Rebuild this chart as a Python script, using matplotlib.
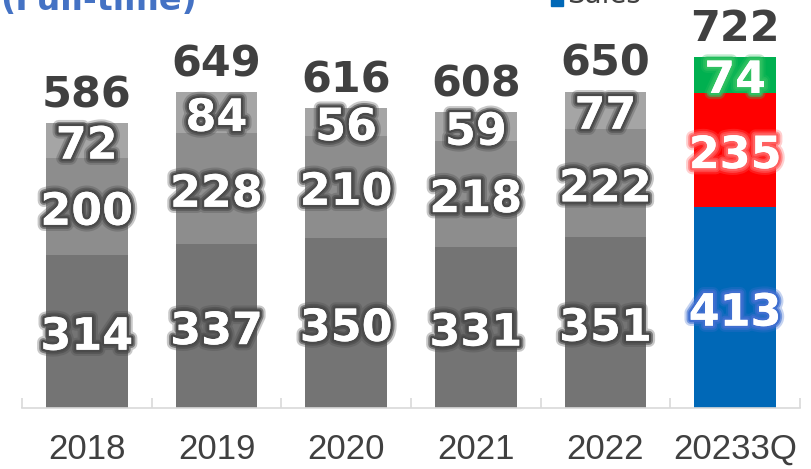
import numpy as np
import matplotlib
matplotlib.use("Agg")
import matplotlib.pyplot as plt
import matplotlib.patheffects as pe

# --- data ---
years = ["2018", "2019", "2020", "2021", "2022", "20233Q"]
bottom_vals = [314, 337, 350, 331, 351, 413]
middle_vals = [200, 228, 210, 218, 222, 235]
top_vals = [72, 84, 56, 59, 77, 74]
totals = [586, 649, 616, 608, 650, 722]

# colours: gray for past years, blue/red/green for latest
bottom_colors = ["#747474"] * 5 + ["#0068B7"]
middle_colors = ["#8D8D8D"] * 5 + ["#FF0000"]
top_colors = ["#A5A5A5"] * 5 + ["#00B050"]
bottom_glow = ["#4A4A4A"] * 5 + ["#3F6FD0"]
middle_glow = ["#4A4A4A"] * 5 + ["#FF6060"]
top_glow = ["#4A4A4A"] * 5 + ["#2EC060"]

fig = plt.figure(figsize=(8.12, 4.69), dpi=100)
ax = fig.add_axes([22 / 812, 61 / 469, 778 / 812, 408 / 469])

x = np.arange(len(years))
w = 0.63
ax.bar(x, bottom_vals, w, color=bottom_colors, zorder=2)
ax.bar(x, middle_vals, w, bottom=bottom_vals, color=middle_colors, zorder=2)
b2 = np.array(bottom_vals) + np.array(middle_vals)
ax.bar(x, top_vals, w, bottom=b2, color=top_colors, zorder=2)


def glow(color):
    return [pe.withStroke(linewidth=9, foreground=color, alpha=0.3),
            pe.withStroke(linewidth=6, foreground=color, alpha=0.6),
            pe.withStroke(linewidth=3.5, foreground=color),
            pe.Normal()]


lbl_kw = dict(ha="center", va="center", color="white", fontsize=32,
              fontweight="bold", family="DejaVu Sans", zorder=5,
              xytext=(0, -4), textcoords="offset points")
for i in range(len(years)):
    ax.annotate(str(bottom_vals[i]), (x[i], bottom_vals[i] / 2),
                path_effects=glow(bottom_glow[i]), **lbl_kw)
    ax.annotate(str(middle_vals[i]), (x[i], bottom_vals[i] + middle_vals[i] / 2),
                path_effects=glow(middle_glow[i]), **lbl_kw)
    ax.annotate(str(top_vals[i]), (x[i], b2[i] + top_vals[i] / 2),
                path_effects=glow(top_glow[i]), **lbl_kw)
    ax.annotate(str(totals[i]), (x[i], totals[i]), xytext=(0, 5),
                textcoords="offset points", ha="center", va="bottom",
                fontsize=31, fontweight="bold", color="#404040")

ax.set_xlim(-0.5, len(years) - 0.5)
ax.set_ylim(0, 839)
for s in ["top", "right", "left"]:
    ax.spines[s].set_visible(False)
ax.spines["bottom"].set_color("#D9D9D9")
ax.spines["bottom"].set_linewidth(1.2)
ax.set_yticks([])
ax.set_xticks(x)
ax.set_xticklabels(years, family="Liberation Sans", fontsize=25,
                   color="#404040")
ax.tick_params(axis="x", which="major", length=0, pad=18)
ax.set_xticks(np.arange(-0.5, len(years)), minor=True)
ax.tick_params(axis="x", which="minor", direction="in", length=7,
               color="#D9D9D9", width=1.2)
ax.patch.set_alpha(0)

# title and legend, cut by the top edge
fig.text(0.0, 1 - 10 / 469, "(Full-time)", color="#4472C4", fontsize=24,
         fontweight="bold", va="baseline", ha="left")
fig.patches.append(plt.Rectangle((551 / 812, 1 - 6 / 469), 12 / 812, 14 / 469,
                                 transform=fig.transFigure, color="#0068B7"))
fig.text(567 / 812, 1 - 3 / 469, "Sales", color="#404040", fontsize=20,
         va="baseline", ha="left")

fig.savefig("out.png", dpi=100)
